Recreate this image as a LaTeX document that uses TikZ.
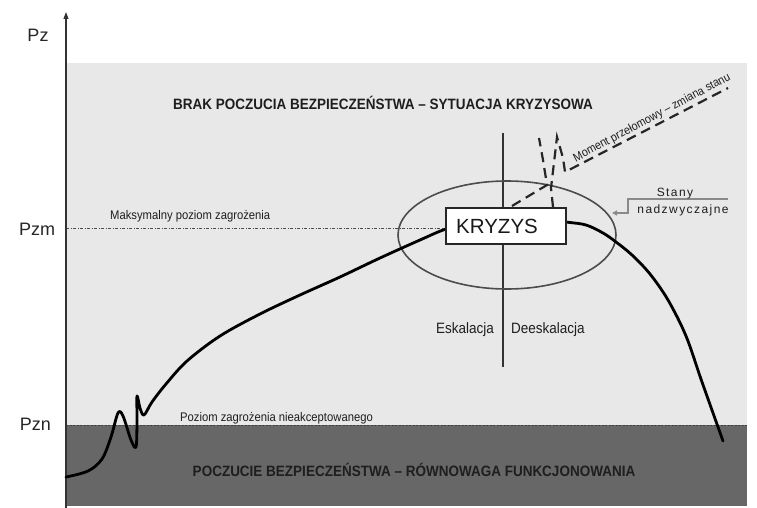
\documentclass[tikz,border=0pt]{standalone}
\usepackage{fontspec}
\setmainfont{Liberation Sans}
\newfontfamily\narrowfont[FakeStretch=0.9]{Liberation Sans}
\newfontfamily\headfont[FakeStretch=0.9]{Liberation Sans Bold}
\newfontfamily\spacedfont[LetterSpace=12]{Liberation Sans}
\usetikzlibrary{arrows.meta}

\definecolor{zonelight}{HTML}{E8E8E8}
\definecolor{zonedark}{HTML}{676767}
\definecolor{inktext}{HTML}{1E1E1E}
\definecolor{calloutgray}{HTML}{8A8A8A}

\tikzset{
  axisline/.style={draw=black!80, line width=1.1pt},
  levelline/.style={draw=black!75, line width=0.6pt, dash pattern=on 2pt off 1.5pt},
  maxline/.style={draw=black!70, line width=0.6pt, dash pattern=on 3pt off 1.5pt on 1pt off 1.5pt},
  threatcurve/.style={draw=black, line width=2.8pt, line cap=round, line join=round},
  pulse/.style={draw=black!85, line width=2.2pt, dash pattern=on 10pt off 6pt},
  zonelabel/.style={inner sep=0pt, text=inktext, font=\headfont\fontsize{15}{18}\selectfont},
  smalllabel/.style={inner sep=0pt, text=inktext, font=\narrowfont\fontsize{12.5}{15}\selectfont},
  axislabel/.style={inner sep=0pt, text=black!85, font=\fontsize{18}{21}\selectfont},
  phaselabel/.style={inner sep=0pt, text=inktext, font=\narrowfont\fontsize{15}{18}\selectfont},
  crisisbox/.style={draw=black!85, fill=white, line width=1.1pt, minimum width=120pt, minimum height=36pt, inner sep=0pt},
}

\begin{document}
\begin{tikzpicture}[x=1pt, y=-1pt]
\useasboundingbox (0,0) rectangle (757,508);
\fill[white] (0,0) rectangle (757,508);

% zones
\fill[zonelight] (66,63) rectangle (747,425);
\fill[zonedark] (66,425) rectangle (747,506);

% threshold levels
\coordinate (pznL) at (66,425);
\coordinate (pznR) at (747,425);
\draw[levelline] (pznL) -- (pznR);
\coordinate (pzmL) at (66,228);
\coordinate (pzmR) at (446,228);
\draw[maxline] (pzmL) -- (pzmR);

% vertical axis
\coordinate (axisBottom) at (66,508);
\coordinate (axisTop) at (66,12);
\draw[axisline, -{Triangle[length=7pt,width=5pt]}] (axisBottom) -- (axisTop);

% axis labels
\node[axislabel, anchor=base] (pz) at (38,42) {Pz};
\node[axislabel, anchor=base] (pzm) at (37,235) {Pzm};
\node[axislabel, anchor=base] (pzn) at (35.5,430) {Pzn};

% zone titles
\node[zonelabel, anchor=base] (unsafe) at (383,109.5) {BRAK POCZUCIA BEZPIECZEŃSTWA – SYTUACJA KRYZYSOWA};
\node[zonelabel, anchor=base] (safe) at (414,476.5) {POCZUCIE BEZPIECZEŃSTWA – RÓWNOWAGA FUNKCJONOWANIA};

% level labels
\node[smalllabel, anchor=base west] (maxlabel) at (110,219) {Maksymalny poziom zagrożenia};
\node[smalllabel, anchor=base west] (minlabel) at (180,421) {Poziom zagrożenia nieakceptowanego};

% escalation / de-escalation divider
\coordinate (divTop) at (503,133);
\coordinate (divBottom) at (503,367);
\draw[draw=black!80, line width=1.2pt] (divTop) -- (divBottom);
\node[phaselabel, anchor=base east] (esc) at (494,333) {Eskalacja};
\node[phaselabel, anchor=base west] (deesc) at (511,333) {Deeskalacja};

% emergency states region
\draw[draw=black!70, line width=1.6pt] (507,235) ellipse [x radius=109pt, y radius=54pt];
\coordinate (ellipseEdge) at (612,213);

% threat level curve
\draw[threatcurve] plot[smooth, tension=0.55] coordinates {
  (66,477) (88,471) (102,459) (111,437) (118,413) (123,416) (131,440) (136,447)
  (137,422) (137,396) (140,408) (144,415) (152,402) (166,384) (187,361)
  (220,336) (260,314) (300,295) (340,277) (380,258) (420,240) (446,229)
  (480,220) (520,216) (566,222) (586,225) (603,233) (616,242) (632,255)
  (650,274) (668,300) (686,336) (702,382) (723,441)};

% crisis box
\node[crisisbox] (crisis) at (506,226) {};
\node[inner sep=0pt, anchor=base west, font=\fontsize{20.5}{24}\selectfont, text=black!90] (crisistext) at (456,233) {KRYZYS};

% turning point dashed pulse
\coordinate (pA0) at (512,206);
\coordinate (pA1) at (547,185);
\coordinate (pA2) at (543,160);
\coordinate (pA3) at (539,138);
\draw[pulse] (pA0) -- (pA1) -- (pA2) -- (pA3);
\coordinate (pB0) at (553,207);
\coordinate (pB1) at (551,188);
\coordinate (pB2) at (557,137);
\coordinate (pB3) at (563,158);
\coordinate (pB4) at (565,172);
\coordinate (pB5) at (728,88);
\draw[pulse] (pB0) -- (pB1) -- (pB2) -- (pB3) -- (pB4) -- (pB5);
\node[inner sep=0pt, rotate=28, text=inktext, font=\narrowfont\fontsize{12}{14}\selectfont] (moment) at (652,118) {Moment przełomowy – zmiana stanu};

% emergency states callout
\coordinate (cal0) at (728,199);
\coordinate (cal1) at (628,199);
\coordinate (cal2) at (628,213);
\draw[draw=calloutgray, line width=1.5pt, -{Triangle[length=5pt,width=5pt]}] (cal0) -- (cal1) -- (cal2) -- (ellipseEdge);
\node[inner sep=0pt, anchor=base, text=inktext, font=\spacedfont\fontsize{12}{14}\selectfont] (stany) at (675,196) {Stany};
\node[inner sep=0pt, anchor=base, text=inktext, font=\spacedfont\fontsize{12}{14}\selectfont] (nadzw) at (683,213) {nadzwyczajne};
\end{tikzpicture}
\end{document}
